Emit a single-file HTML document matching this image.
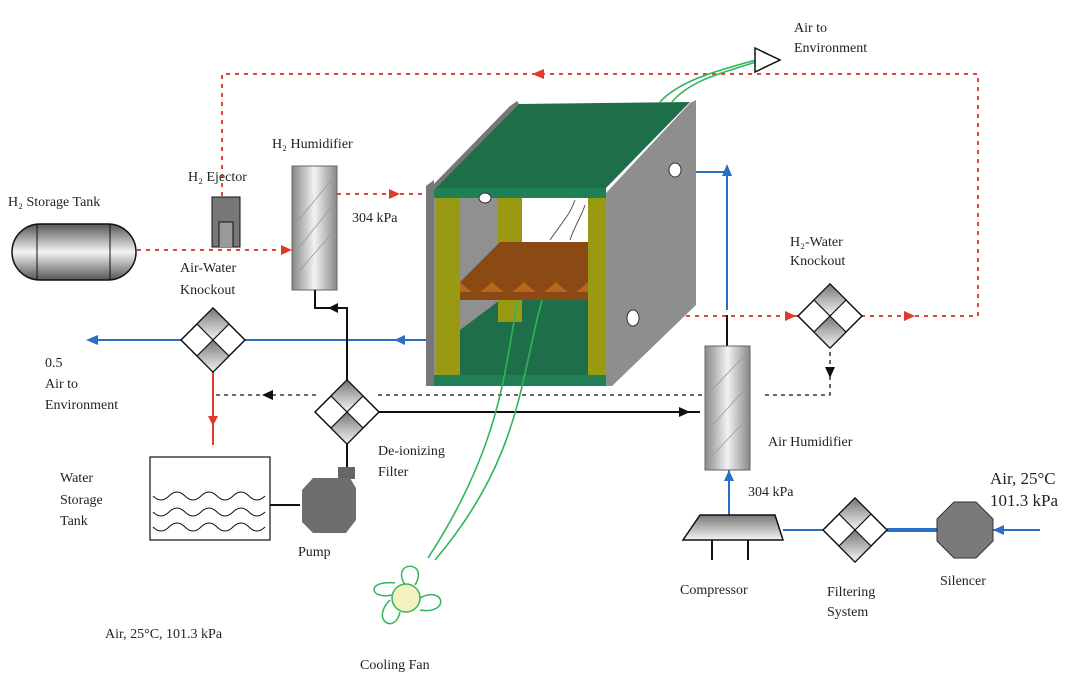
<!DOCTYPE html>
<html><head><meta charset="utf-8"><style>
body{margin:0;background:#fff}
svg{display:block}
text{font-family:"Liberation Serif",serif;font-size:14px;fill:#222}
</style></head><body>
<svg width="1080" height="680" viewBox="0 0 1080 680" xmlns="http://www.w3.org/2000/svg">
<defs>
<linearGradient id="gv" x1="0" y1="0" x2="0" y2="1"><stop offset="0" stop-color="#555"/><stop offset="0.5" stop-color="#f4f4f4"/><stop offset="1" stop-color="#555"/></linearGradient>
<linearGradient id="gh" x1="0" y1="0" x2="1" y2="0"><stop offset="0" stop-color="#888"/><stop offset="0.5" stop-color="#f2f2f2"/><stop offset="1" stop-color="#888"/></linearGradient>
<linearGradient id="gd" x1="0" y1="0" x2="0" y2="1"><stop offset="0" stop-color="#777"/><stop offset="1" stop-color="#f4f4f4"/></linearGradient>
<linearGradient id="gw" x1="0" y1="0" x2="1" y2="0"><stop offset="0" stop-color="#2e9e5e"/><stop offset="1" stop-color="#9fe0b8"/></linearGradient>
<g id="dia">
<polygon points="0,-32 32,0 0,32 -32,0" fill="#fff" stroke="#111" stroke-width="1.5"/>
<polygon points="0,-32 16,-16 0,0 -16,-16" fill="url(#gd)" stroke="#111" stroke-width="1.2"/>
<polygon points="0,0 16,16 0,32 -16,16" fill="url(#gd)" stroke="#111" stroke-width="1.2"/>
</g>
</defs>

<!-- red dotted loop -->
<g stroke="#e0463a" stroke-width="2" stroke-dasharray="4,5" fill="none">
<path d="M222,196 V74 H978 V316 H862"/>
<path d="M798,316 H640"/>
<path d="M137,250 H290"/>
<path d="M337,194 H428"/>
</g>
<g fill="#e03a2a">
<polygon points="532,74 544,69 544,79"/>
<polygon points="292,250 281,245 281,255"/>
<polygon points="400,194 389,189 389,199"/>
<polygon points="796,316 785,311 785,321"/>
<polygon points="915,316 904,311 904,321"/>
</g>

<!-- H2 tank -->
<rect x="12" y="224" width="124" height="56" rx="28" fill="url(#gv)" stroke="#111" stroke-width="1.5"/>
<line x1="37" y1="224" x2="37" y2="280" stroke="#111"/>
<line x1="110" y1="224" x2="110" y2="280" stroke="#111"/>

<!-- ejector -->
<rect x="212" y="197" width="28" height="50" fill="#777" stroke="#111"/>
<path d="M219,247 V222 H233 V247" fill="#999" stroke="#111"/>

<!-- H2 humidifier -->
<rect x="292" y="166" width="45" height="124" fill="url(#gh)" stroke="#666"/>
<g stroke="#999" stroke-width="0.8"><line x1="297" y1="222" x2="333" y2="178"/><line x1="297" y1="250" x2="333" y2="205"/><line x1="300" y1="270" x2="333" y2="232"/></g>

<!-- blue lines -->
<g stroke="#2a6fc4" stroke-width="2" fill="none">
<line x1="90" y1="340" x2="181" y2="340"/>
<line x1="245" y1="340" x2="430" y2="340"/>
<path d="M679,172 H727 V310"/>
<line x1="729" y1="470" x2="729" y2="515"/>
<line x1="783" y1="530" x2="823" y2="530"/>
<line x1="887" y1="530" x2="937" y2="530" stroke-width="4"/>
<line x1="993" y1="530" x2="1040" y2="530"/>
</g>
<g fill="#2a6fc4">
<polygon points="86,340 98,335 98,345"/>
<polygon points="394,340 405,335 405,345"/>
<polygon points="727,164 722,176 732,176"/>
<polygon points="729,470 724,481 734,481"/>
<polygon points="993,530 1004,525 1004,535"/>
</g>

<!-- red down -->
<line x1="213" y1="372" x2="213" y2="445" stroke="#e03a2a" stroke-width="2"/>
<polygon points="213,426 208,416 218,416" fill="#e03a2a"/>

<!-- black lines -->
<g stroke="#111" stroke-width="2" fill="none">
<path d="M315,290 V308 H347 V380"/>
<line x1="379" y1="412" x2="700" y2="412"/>
<line x1="347" y1="444" x2="347" y2="470"/>
<line x1="270" y1="505" x2="300" y2="505"/>
<line x1="727" y1="315" x2="727" y2="346"/>
<line x1="712" y1="540" x2="712" y2="560"/>
<line x1="748" y1="540" x2="748" y2="560"/>
</g>
<polygon points="328,308 338,303 338,313" fill="#111"/>
<polygon points="690,412 679,407 679,417" fill="#111"/>
<g stroke="#111" stroke-width="1.3" stroke-dasharray="4,4" fill="none">
<path d="M216,395 H316"/><path d="M378,395 H705"/>
<path d="M765,395 H830 V350"/>
</g>
<polygon points="262,395 273,390 273,400" fill="#111"/>
<polygon points="830,378 825,367 835,367" fill="#111"/>

<!-- diamonds -->
<use href="#dia" x="213" y="340"/>
<use href="#dia" x="347" y="412"/>
<use href="#dia" x="830" y="316"/>
<use href="#dia" x="855" y="530"/>

<!-- water tank -->
<rect x="150" y="457" width="120" height="83" fill="#fff" stroke="#111" stroke-width="1.2"/>
<g stroke="#111" fill="none" stroke-width="1">
<path d="M153,496 q8,8 16,0 t16,0 t16,0 t16,0 t16,0 t16,0 t16,0"/>
<path d="M153,512 q8,8 16,0 t16,0 t16,0 t16,0 t16,0 t16,0 t16,0"/>
<path d="M153,527 q8,8 16,0 t16,0 t16,0 t16,0 t16,0 t16,0 t16,0"/>
</g>

<!-- pump -->
<rect x="338" y="467" width="17" height="12" fill="#666"/>
<polygon points="313,478 350,478 356,488 356,520 346,533 313,533 302,522 302,490" fill="#6e6e6e"/>

<!-- stack -->
<polygon points="426,186 434,180 434,386 426,386" fill="#777"/>
<polygon points="434,197 606,197 606,375 434,375" fill="#909090"/>
<rect x="522" y="197" width="66" height="45" fill="#fff"/>
<polygon points="460,300 588,300 588,375 460,375" fill="#1f6e4a"/>
<polygon points="460,330 500,300 460,300" fill="#909090"/>
<rect x="498" y="197" width="24" height="125" fill="#9a9a12"/>
<polygon points="500,242 588,242 588,282 460,282" fill="#8b4a14"/>
<rect x="460" y="282" width="128" height="18" fill="#b8661e"/>
<g fill="#8b4a14"><polygon points="460,282 476,296 492,282"/><polygon points="492,282 508,296 524,282"/><polygon points="524,282 540,296 556,282"/><polygon points="556,282 572,296 588,282"/></g>
<rect x="460" y="292" width="128" height="8" fill="#8b4a14"/>
<rect x="436" y="197" width="24" height="178" fill="#9a9a12"/>
<rect x="588" y="197" width="18" height="178" fill="#9a9a12"/>
<rect x="434" y="375" width="172" height="11" fill="#1f8055"/>
<polygon points="432,188 517,104 690,102 606,188" fill="#1f6e4a"/>
<rect x="434" y="188" width="172" height="10" fill="#1f8055"/>
<polygon points="510,106 517,101 519,104 434,190 428,190" fill="#777"/>
<polygon points="606,193 690,103 696,100 696,305 612,386 606,386" fill="#8e8e8e"/>
<ellipse cx="675" cy="170" rx="6" ry="7" fill="#fff" stroke="#333"/>
<ellipse cx="633" cy="318" rx="6" ry="8" fill="#fff" stroke="#333"/>
<ellipse cx="485" cy="198" rx="6" ry="5" fill="#fff" stroke="#333"/>

<!-- wires -->
<g fill="none" stroke="#2fb45a" stroke-width="1.6">
<path d="M518,300 C505,360 505,440 428,558"/>
<path d="M542,300 C520,380 520,460 435,560"/>
<path d="M660,102 C680,80 720,70 756,60"/>
<path d="M672,102 C690,80 725,72 756,62"/>
</g>
<g fill="none" stroke="#555" stroke-width="1"><path d="M550,240 C560,225 570,215 575,200"/><path d="M570,240 C575,225 582,215 585,205"/></g>
<polygon points="755,48 780,60 755,72" fill="#fff" stroke="#111" stroke-width="1.5"/>

<!-- fan -->
<g fill="none" stroke="#2fb45a" stroke-width="1.5">
<path d="M405,585 C390,560 430,560 415,585"/>
<path d="M420,598 C445,585 450,615 420,610"/>
<path d="M400,612 C395,635 370,620 390,600"/>
<path d="M392,595 C370,600 365,580 395,583"/>
</g>
<circle cx="406" cy="598" r="14" fill="#f3f3c0" stroke="#2fb45a" stroke-width="1.5"/>

<!-- air humidifier -->
<rect x="705" y="346" width="45" height="124" fill="url(#gh)" stroke="#666"/>
<g stroke="#999" stroke-width="0.8"><line x1="708" y1="394" x2="746" y2="354"/><line x1="708" y1="430" x2="746" y2="388"/><line x1="708" y1="460" x2="746" y2="420"/></g>

<!-- compressor -->
<polygon points="700,515 775,515 783,540 683,540" fill="url(#gd)" stroke="#111" stroke-width="1.5"/>

<!-- silencer -->
<polygon points="954,502 976,502 993,519 993,541 976,558 954,558 937,541 937,519" fill="#7a7a7a" stroke="#333"/>

<!-- labels -->
<text x="8" y="206">H₂ Storage Tank</text>
<text x="188" y="181">H₂ Ejector</text>
<text x="272" y="148">H₂ Humidifier</text>
<text x="352" y="222">304 kPa</text>
<text x="180" y="272">Air-Water</text>
<text x="180" y="294">Knockout</text>
<text x="45" y="367">0.5</text>
<text x="45" y="388">Air to</text>
<text x="45" y="409">Environment</text>
<text x="60" y="482">Water</text>
<text x="60" y="504">Storage</text>
<text x="60" y="525">Tank</text>
<text x="298" y="556">Pump</text>
<text x="378" y="455">De-ionizing</text>
<text x="378" y="476">Filter</text>
<text x="105" y="638">Air, 25°C, 101.3 kPa</text>
<text x="360" y="669">Cooling Fan</text>
<text x="794" y="32">Air to</text>
<text x="794" y="52">Environment</text>
<text x="790" y="246">H₂-Water</text>
<text x="790" y="265">Knockout</text>
<text x="768" y="446">Air Humidifier</text>
<text x="748" y="496">304 kPa</text>
<text x="680" y="594">Compressor</text>
<text x="827" y="596">Filtering</text>
<text x="827" y="616">System</text>
<text x="940" y="585">Silencer</text>
<text x="990" y="484" style="font-size:17px">Air, 25°C</text>
<text x="990" y="506" style="font-size:17px">101.3 kPa</text>
</svg>
</body></html>
